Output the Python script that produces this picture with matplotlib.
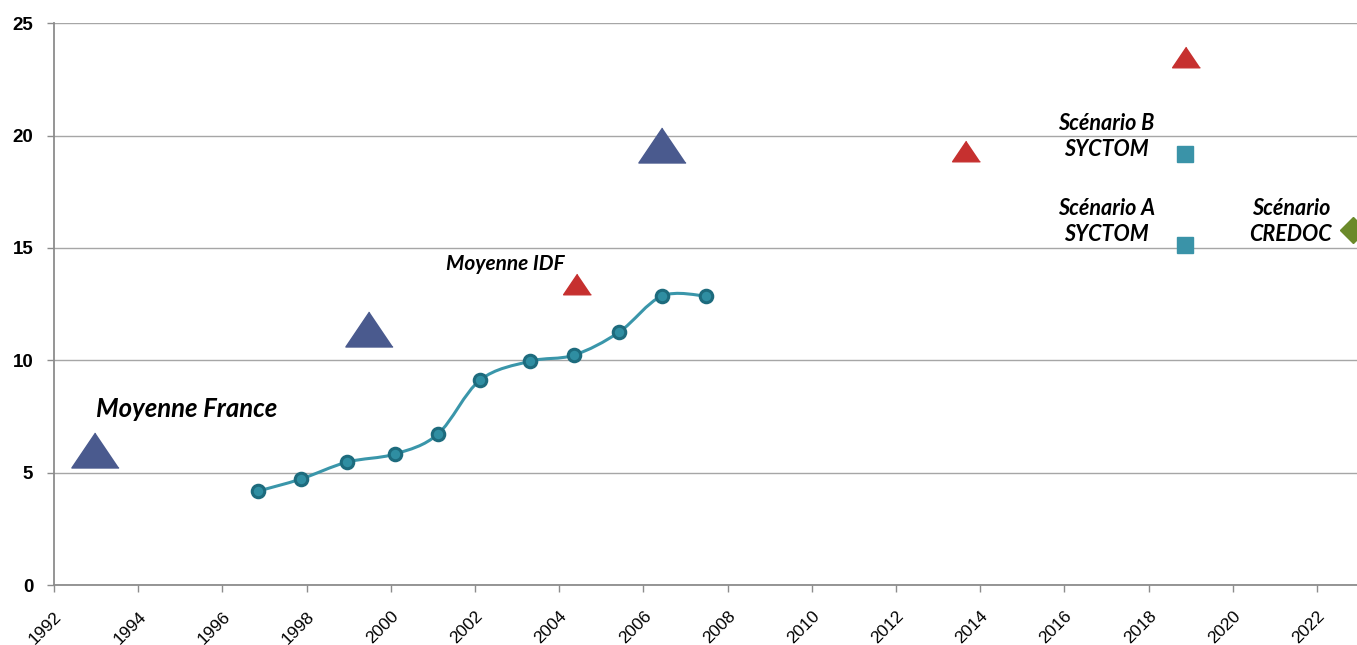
import numpy as np
import matplotlib.pyplot as plt
from matplotlib.path import Path
from matplotlib.patches import PathPatch

# série mesurée (courbe lissée)
annees = [1996.85, 1997.87, 1998.96, 2000.10, 2001.12, 2002.12,
          2003.31, 2004.35, 2005.42, 2006.44, 2007.49]
valeurs = [4.18, 4.72, 5.47, 5.83, 6.72, 9.12, 9.96, 10.23, 11.25, 12.86, 12.86]

# moyennes France (triangles bleus)
france_x = [1992.97, 1999.48, 2006.44]
france_y = [6.0, 11.4, 19.6]

# moyennes IDF (triangles rouges)
idf_x = [2004.42, 2013.66, 2018.89]
idf_y = [13.4, 19.3, 23.5]

# scénarios SYCTOM
syctom_x = [2018.87, 2018.87]
syctom_y = [19.2, 15.15]

# scénario CREDOC
credoc_x = [2022.85]
credoc_y = [15.8]


def lissage(x, y, t=1 / 6):
    # courbe de Bézier type Excel (Catmull-Rom)
    pts = np.column_stack([x, y])
    verts = [pts[0]]
    codes = [Path.MOVETO]
    n = len(pts)
    for i in range(n - 1):
        p0 = pts[max(i - 1, 0)]
        p1 = pts[i]
        p2 = pts[i + 1]
        p3 = pts[min(i + 2, n - 1)]
        c1 = p1 + (p2 - p0) * t
        c2 = p2 - (p3 - p1) * t
        verts += [c1, c2, p2]
        codes += [Path.CURVE4] * 3
    return Path(verts, codes)


fig = plt.figure(figsize=(13.57, 6.45), dpi=100)
ax = fig.add_axes([0.0398, 0.093, 0.9602, 0.871])

ax.set_xlim(1992, 2022.95)
ax.set_ylim(0, 25)
ax.set_xticks(range(1992, 2023, 2))
ax.set_yticks(range(0, 26, 5))
ax.grid(axis='y', color='#a6a6a6', lw=1)
ax.set_axisbelow(True)
for s in ['top', 'right']:
    ax.spines[s].set_visible(False)
for s in ['left', 'bottom']:
    ax.spines[s].set_color('#8c8c8c')
    ax.spines[s].set_linewidth(1.3)
ax.tick_params(colors='#8c8c8c', length=5, width=1)
ax.tick_params(axis='y', labelcolor='black', labelsize=13.5, pad=10)
ax.tick_params(axis='x', labelcolor='black', labelsize=12.5, labelrotation=45, pad=12)
for lab in ax.get_yticklabels():
    lab.set_fontweight('bold')
    lab.set_family('Liberation Sans')
for lab in ax.get_xticklabels():
    lab.set_family('Liberation Sans')
    lab.set_ha('right')
    lab.set_va('top')
    lab.set_rotation_mode('anchor')

ax.add_patch(PathPatch(lissage(annees, valeurs), fc='none', ec='#3a96aa', lw=2.2, zorder=3))
ax.plot(annees, valeurs, ls='none', marker='o', ms=9, mfc='#2f8ea2', mec='#1d6b7d', mew=2.2, zorder=4)

tri = [(0, 1), (-1.35, -1), (1.35, -1)]
ax.plot(france_x, france_y, ls='none', marker=tri, ms=34, color='#4a5a8e', zorder=4)
ax.plot(idf_x, idf_y, ls='none', marker=tri, ms=20, color='#c6302f', zorder=4)
ax.plot(syctom_x, syctom_y, ls='none', marker='s', ms=12, color='#3a93a8', zorder=4)
ax.plot(credoc_x, credoc_y, ls='none', marker='D', ms=13, color='#6b8a2a', zorder=4)

police = dict(family='Lato', fontweight='bold', fontstyle='italic', color='black')
ax.text(1993.0, 7.83, 'Moyenne France', fontsize=18.5, ha='left', va='center', **police)
ax.text(2002.71, 14.28, 'Moyenne IDF', fontsize=15, ha='center', va='center', **police)
ax.text(2017.0, 19.97, 'Scénario B\nSYCTOM', fontsize=15.5, ha='center', va='center', linespacing=1.3, **police)
ax.text(2017.0, 16.17, 'Scénario A\nSYCTOM', fontsize=15.5, ha='center', va='center', linespacing=1.3, **police)
ax.text(2021.38, 16.17, 'Scénario\nCREDOC', fontsize=15.5, ha='center', va='center', linespacing=1.3, **police)

fig.savefig('out.png', dpi=100)
